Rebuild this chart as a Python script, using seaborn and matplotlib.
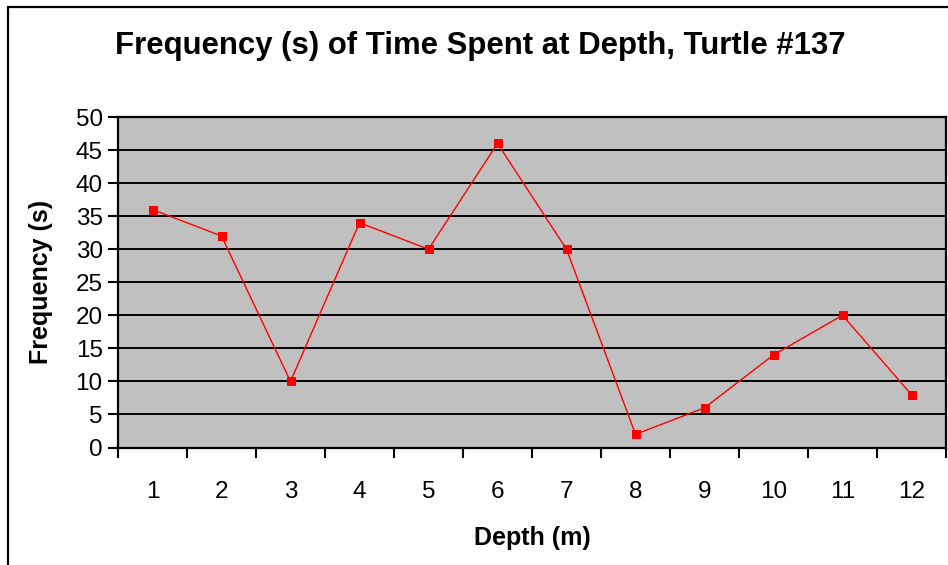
import matplotlib
matplotlib.use("Agg")
import matplotlib.pyplot as plt
import seaborn as sns
import pandas as pd
from matplotlib.lines import Line2D
from matplotlib.ticker import FixedLocator, NullFormatter, FixedFormatter

depth = [1, 2, 3, 4, 5, 6, 7, 8, 9, 10, 11, 12]
frequency = [36, 32, 10, 34, 30, 46, 30, 2, 6, 14, 20, 8]
y_ticks = [0, 5, 10, 15, 20, 25, 30, 35, 40, 45, 50]
title = "Frequency (s) of Time Spent at Depth, Turtle #137"
xlabel = "Depth (m)"
ylabel = "Frequency (s)"

sns.set_theme(style="white")
plt.rcParams['font.family'] = ['Liberation Sans', 'DejaVu Sans']
plt.rcParams.update({"text.color": "black", "axes.labelcolor": "black",
                     "xtick.color": "black", "ytick.color": "black"})

df = pd.DataFrame({"depth": depth, "freq": frequency})

fig = plt.figure(figsize=(9.48, 5.65), dpi=100)
W, H = 948, 565
ax = fig.add_axes([118 / W, 1 - 447.5 / H, (946 - 118) / W, (447.5 - 117) / H])
ax.set_facecolor("#C0C0C0")

for yv in y_ticks[1:-1]:
    ax.axhline(yv, color="black", lw=1.4, zorder=1)

sns.lineplot(data=df, x="depth", y="freq", ax=ax, color="#FF0000", lw=1.0,
             marker="s", markersize=6, markeredgecolor="#FF0000",
             markerfacecolor="#FF0000", zorder=3)

ax.set_xlim(0.5, 12.5)
ax.set_ylim(0, 50)
ax.set_yticks(y_ticks)
ax.set_yticklabels([str(v) for v in y_ticks], fontsize=17.5)

bounds = [d - 0.5 for d in depth] + [depth[-1] + 0.5]
ax.xaxis.set_major_locator(FixedLocator(bounds))
ax.xaxis.set_major_formatter(NullFormatter())
ax.xaxis.set_minor_locator(FixedLocator(depth))
ax.xaxis.set_minor_formatter(FixedFormatter([str(d) for d in depth]))
ax.tick_params(axis="x", which="major", direction="out", length=7, width=1.5,
               color="black", bottom=True)
ax.tick_params(axis="x", which="minor", length=0, pad=24, labelsize=17.5, bottom=True,
               labelcolor="black")
ax.tick_params(axis="y", direction="out", length=7, width=1.5, color="black",
               left=True, pad=4, labelsize=17.5, labelcolor="black")

for s in ax.spines.values():
    s.set_visible(True)
    s.set_color("black")
    s.set_linewidth(1.6)

ax.set_xlabel(xlabel, fontsize=18, fontweight="bold", labelpad=17)
ax.set_ylabel(ylabel, fontsize=18, fontweight="bold", labelpad=16)

fig.text(480 / W, 1 - 46 / H, title, ha="center", va="center",
         fontsize=22.4, fontweight="bold")

# outer chart border (left and top edges visible)
fig.add_artist(Line2D([7.5 / W, 7.5 / W], [0, 1 - 6.5 / H], transform=fig.transFigure,
                      color="black", lw=1.6))
fig.add_artist(Line2D([7.5 / W, 1], [1 - 6.5 / H, 1 - 6.5 / H], transform=fig.transFigure,
                      color="black", lw=1.6))

fig.savefig("out.png", dpi=100)
